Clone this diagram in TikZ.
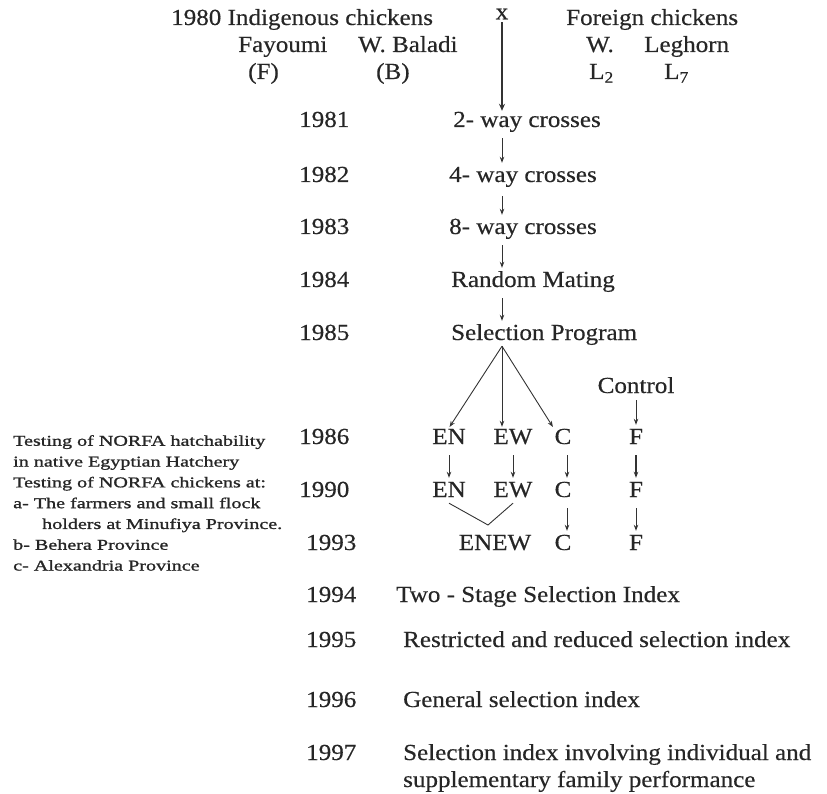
\documentclass[tikz,border=0pt]{standalone}
\usepackage{fontspec}
\setmainfont{Liberation Serif}[FakeStretch=1.09, FakeBold=0.4]
\newfontfamily\notefont{Liberation Serif}[FakeStretch=1.34, FakeBold=1.2]
\usetikzlibrary{arrows.meta, positioning}

\begin{document}
\begin{tikzpicture}[
    x=1pt, y=-1pt,
    entry/.style={anchor=west, inner sep=1pt, text=black!85, font=\fontsize{23}{27}\selectfont, text height=15pt, text depth=5pt},
    tag/.style={entry, anchor=center},
    sidenote/.style={anchor=north west, inner sep=0pt, align=left, text=black!85, font=\notefont\fontsize{15}{20.8}\selectfont},
    arrow/.style={-{Stealth[length=6pt, width=4.5pt]}, line width=0.9pt, draw=black!80, shorten <=5pt, shorten >=3pt},
    bigarrow/.style={-{Stealth[length=7pt, width=6pt]}, line width=2.4pt, draw=black!80}
]
    \useasboundingbox (0,0) rectangle (827,794);

    % Parents 1980
    \node[entry] (indig) at (170,20) {1980 Indigenous chickens};
    \node[inner sep=0pt, text=black!85, font=\fontsize{23}{27}\selectfont] (cross) at (502,14) {x};
    \node[entry] (foreign) at (565,20) {Foreign chickens};
    \node[entry] (fay) at (237,47) {Fayoumi};
    \node[entry] (bal) at (357,47) {W. Baladi};
    \node[entry] (wl) at (585,47) {W.};
    \node[entry] (leg) at (643,47) {Leghorn};
    \node[entry] (fcode) at (247,74) {(F)};
    \node[entry] (bcode) at (375,74) {(B)};
    \node[entry] (l2) at (588,74) {L\textsubscript{2}};
    \node[entry] (l7) at (663,74) {L\textsubscript{7}};

    \coordinate (axis) at (502,0);
    \coordinate (ccol) at (567,0);
    \coordinate (join) at (488,525);

    % Years
    \node[entry] (y81) at (298,122) {1981};
    \node[entry] (y82) at (298,177) {1982};
    \node[entry] (y83) at (298,229) {1983};
    \node[entry] (y84) at (298,282) {1984};
    \node[entry] (y85) at (298,335) {1985};
    \node[entry] (y86) at (298,439) {1986};
    \node[entry] (y90) at (298,492) {1990};
    \node[entry] (y93) at (305,545) {1993};
    \node[entry] (y94) at (305,597) {1994};
    \node[entry] (y95) at (305,642) {1995};
    \node[entry] (y96) at (305,702) {1996};
    \node[entry] (y97) at (305,755) {1997};

    % Crossing and selection
    \node[entry] (way2) at (452,122) {2- way crosses};
    \node[entry] (way4) at (448,177) {4- way crosses};
    \node[entry] (way8) at (448,229) {8- way crosses};
    \node[entry] (rand) at (450,282) {Random Mating};
    \node[entry] (sel) at (450,335) {Selection Program};
    \node[tag] (ctrl) at (636,388) {Control};

    % Lines
    \node[tag] (en1) at (449,439) {EN};
    \node[tag] (ew1) at (513,439) {EW};
    \node[tag] (cc1) at (563,439) {C};
    \node[tag] (ff1) at (636,439) {F};
    \node[tag] (en2) at (449,492) {EN};
    \node[tag] (ew2) at (513,492) {EW};
    \node[tag] (cc2) at (563,492) {C};
    \node[tag] (ff2) at (636,492) {F};
    \node[tag] (enew) at (495,545) {ENEW};
    \node[tag] (cc3) at (563,545) {C};
    \node[tag] (ff3) at (636,545) {F};

    % Indices
    \node[entry] (two) at (395,597) {Two - Stage Selection Index};
    \node[entry] (restr) at (402,642) {Restricted and reduced selection index};
    \node[entry] (gen) at (402,702) {General selection index};
    \node[entry] (indiv) at (402,755) {Selection index involving individual and};
    \node[entry] (suppl) at (402,782) {supplementary family performance};

    % Field testing
    \node[sidenote] (note) at (13,435) {Testing of NORFA hatchability\\
        in native Egyptian Hatchery\\
        Testing of NORFA chickens at:\\
        a- The farmers and small flock\\
        \hspace*{29pt}holders at Minufiya Province.\\
        b- Behera Province\\
        c- Alexandria Province};

    % Connectors
    \draw[bigarrow, shorten <=3pt] (cross.south -| axis) -- (way2.north -| axis);
    \draw[arrow] (way2.south -| axis) -- (way4.north -| axis);
    \draw[arrow, shorten <=8pt] (way4.south -| axis) -- (way8.north -| axis);
    \draw[arrow] (way8.south -| axis) -- (rand.north -| axis);
    \draw[arrow] (rand.south -| axis) -- (sel.north -| axis);
    \draw[arrow, shorten <=0pt, shorten >=1pt] (sel.south -| axis) -- (en1.north);
    \draw[arrow, shorten <=0pt, shorten >=1pt] (sel.south -| axis) -- (ew1.north -| axis);
    \draw[arrow, shorten <=0pt, shorten >=1pt] (sel.south -| axis) -- (cc1.north west);
    \draw[arrow, shorten <=1pt] (ctrl) -- (ff1);
    \draw[arrow] (en1) -- (en2);
    \draw[arrow] (ew1) -- (ew2);
    \draw[arrow] (cc1.south -| ccol) -- (cc2.north -| ccol);
    \draw[arrow, line width=1.6pt] (ff1) -- (ff2);
    \draw[line width=0.9pt, draw=black!80] (en2.south) -- (join) -- (ew2.south);
    \draw[arrow] (cc2.south -| ccol) -- (cc3.north -| ccol);
    \draw[arrow] (ff2) -- (ff3);
\end{tikzpicture}
\end{document}
